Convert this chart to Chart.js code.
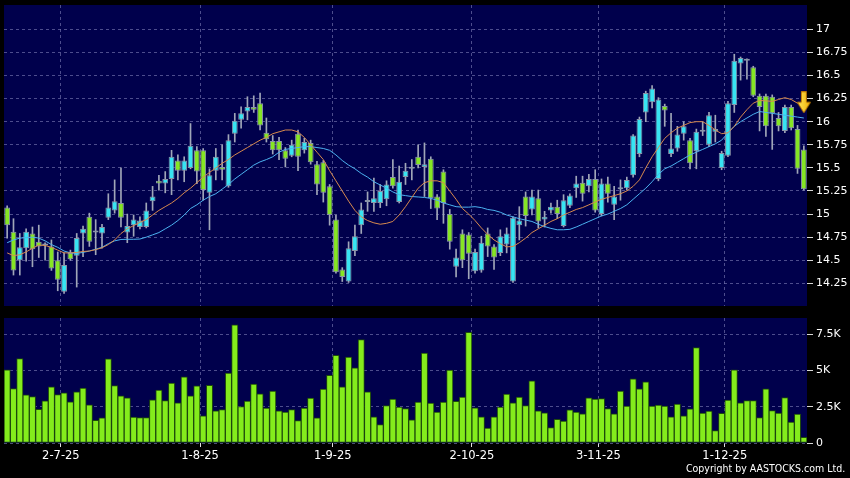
<!DOCTYPE html>
<html lang="en">
<head>
<meta charset="utf-8">
<script src="https://cdn.jsdelivr.net/npm/chart.js"></script>
<style>
  body { margin: 0; background: #000; width: 850px; height: 478px; overflow: hidden; position: relative; }
  #pricebox { position: absolute; left: 0; top: 0; }
  #volbox { position: absolute; left: 0; top: 311px; }
  #copy { position: absolute; right: 5px; top: 462px; color: #fff; font: 11px "DejaVu Sans"; transform: scaleX(0.86); transform-origin: right center; white-space: nowrap; }
</style>
</head>
<body>
<div id="pricebox"><canvas id="priceChart" width="850" height="311"></canvas></div>
<div id="volbox"><canvas id="volChart" width="850" height="167"></canvas></div>
<div id="copy">Copyright by AASTOCKS.com Ltd.</div>
<script>
const dates = [
  '18-6-25','19-6-25','20-6-25','23-6-25','24-6-25','25-6-25','26-6-25','27-6-25','30-6-25',
  '2-7-25','3-7-25','4-7-25','7-7-25','8-7-25','9-7-25','10-7-25','11-7-25','14-7-25','15-7-25','16-7-25','17-7-25','18-7-25','21-7-25','22-7-25','23-7-25','24-7-25','25-7-25','28-7-25','29-7-25','30-7-25','31-7-25',
  '1-8-25','4-8-25','5-8-25','6-8-25','7-8-25','8-8-25','11-8-25','12-8-25','13-8-25','14-8-25','15-8-25','18-8-25','19-8-25','20-8-25','21-8-25','22-8-25','25-8-25','26-8-25','27-8-25','28-8-25','29-8-25',
  '1-9-25','2-9-25','3-9-25','4-9-25','5-9-25','8-9-25','9-9-25','10-9-25','11-9-25','12-9-25','15-9-25','16-9-25','17-9-25','18-9-25','19-9-25','22-9-25','23-9-25','24-9-25','25-9-25','26-9-25','29-9-25','30-9-25',
  '2-10-25','3-10-25','6-10-25','8-10-25','9-10-25','10-10-25','13-10-25','14-10-25','15-10-25','16-10-25','17-10-25','20-10-25','21-10-25','22-10-25','23-10-25','24-10-25','27-10-25','28-10-25','30-10-25','31-10-25',
  '3-11-25','4-11-25','5-11-25','6-11-25','7-11-25','10-11-25','11-11-25','12-11-25','13-11-25','14-11-25','17-11-25','18-11-25','19-11-25','20-11-25','21-11-25','24-11-25','25-11-25','26-11-25','27-11-25','28-11-25',
  '1-12-25','2-12-25','3-12-25','4-12-25','5-12-25','8-12-25','9-12-25','10-12-25','11-12-25','12-12-25','15-12-25','16-12-25','17-12-25'
];

const opens = [
  15.07,14.81,14.50,14.63,14.79,14.70,14.67,14.65,14.50,14.16,14.58,14.55,14.79,14.97,14.82,14.79,14.96,15.04,15.12,14.80,
  14.88,14.86,14.86,15.14,15.36,15.33,15.38,15.58,15.47,15.50,15.69,15.69,15.23,15.47,15.51,15.30,15.87,16.02,16.11,16.16,
  16.20,15.88,15.79,15.79,15.69,15.63,15.87,15.69,15.77,15.54,15.56,15.30,14.94,14.40,14.27,14.60,14.88,15.15,15.12,15.12,
  15.16,15.40,15.13,15.40,15.50,15.62,15.51,15.60,15.19,15.46,15.00,14.43,14.79,14.78,14.38,14.39,14.79,14.65,14.58,14.67,
  14.27,14.88,15.19,15.05,15.17,14.94,15.04,15.08,14.87,15.09,15.28,15.34,15.30,15.38,15.00,15.33,15.10,15.27,15.28,15.42,
  15.65,16.10,16.21,15.38,16.17,15.65,15.71,15.87,15.80,15.68,15.89,15.75,15.89,15.50,15.63,16.18,16.63,16.67,16.59,16.28,
  16.28,16.27,16.04,15.90,16.16,15.92,15.70
];
const highs = [
  15.09,14.95,14.79,14.84,14.86,14.88,14.69,14.72,14.59,14.58,14.61,14.79,14.87,15.01,14.94,14.89,15.22,15.37,15.50,15.00,
  14.99,14.97,15.12,15.30,15.42,15.46,15.69,15.64,15.62,15.98,15.73,15.71,15.49,15.71,15.75,15.86,16.09,16.16,16.27,16.28,
  16.31,16.04,15.85,15.83,15.72,15.80,15.91,15.82,15.80,15.57,15.58,15.32,14.99,14.42,14.70,14.88,15.12,15.24,15.39,15.32,
  15.36,15.59,15.52,15.55,15.59,15.75,15.77,15.62,15.21,15.48,15.05,14.62,14.83,14.80,14.62,14.76,14.85,14.67,14.83,14.85,
  14.97,15.08,15.24,15.26,15.26,15.03,15.12,15.15,15.21,15.22,15.41,15.41,15.43,15.48,15.38,15.40,15.30,15.37,15.40,15.86,
  16.05,16.33,16.39,16.26,16.19,16.09,15.95,16.00,15.82,15.92,16.00,16.10,16.07,15.68,16.22,16.73,16.70,16.68,16.60,16.30,
  16.30,16.29,16.10,16.18,16.18,15.96,15.74
];
const lows = [
  14.74,14.34,14.34,14.49,14.43,14.53,14.50,14.39,14.17,14.14,14.50,14.21,14.54,14.65,14.56,14.63,14.94,15.01,14.86,14.69,
  14.76,14.84,14.85,15.04,15.26,15.23,15.21,15.37,15.35,15.49,15.33,15.15,14.83,15.37,15.37,15.29,15.78,15.93,16.02,16.10,
  15.91,15.78,15.65,15.59,15.51,15.62,15.47,15.66,15.54,15.21,15.13,14.88,14.36,14.27,14.26,14.55,14.79,15.03,15.03,15.07,
  15.09,15.28,15.12,15.32,15.37,15.50,15.19,15.06,14.94,14.90,14.62,14.32,14.42,14.30,14.36,14.37,14.54,14.40,14.55,14.58,
  14.26,14.72,14.87,14.99,14.85,14.86,15.01,14.95,14.86,15.07,15.18,15.14,15.24,15.02,14.98,15.13,14.94,15.15,15.26,15.40,
  15.62,16.00,16.15,15.36,15.95,15.62,15.68,15.80,15.49,15.49,15.85,15.73,15.78,15.48,15.62,16.10,16.45,16.46,16.27,15.90,
  15.84,15.70,15.90,15.88,15.91,15.44,15.26
];
const closes = [
  14.88,14.39,14.64,14.81,14.62,14.65,14.66,14.41,14.29,14.45,14.51,14.74,14.84,14.70,14.80,14.86,15.07,15.14,14.96,14.87,
  14.94,14.93,15.04,15.19,15.33,15.38,15.62,15.47,15.58,15.74,15.46,15.26,15.42,15.62,15.48,15.80,16.01,16.09,16.16,16.13,
  15.96,15.81,15.69,15.69,15.60,15.75,15.62,15.78,15.56,15.32,15.23,14.99,14.37,14.32,14.63,14.76,15.05,15.13,15.17,15.25,
  15.32,15.30,15.35,15.47,15.49,15.53,15.54,15.17,15.06,15.12,14.70,14.53,14.50,14.57,14.59,14.69,14.65,14.53,14.76,14.79,
  14.96,14.93,14.98,15.19,14.92,14.97,15.08,15.00,15.15,15.20,15.33,15.22,15.38,15.04,15.33,15.22,15.19,15.28,15.37,15.85,
  16.03,16.31,16.36,16.24,16.12,15.71,15.86,15.95,15.55,15.89,15.91,16.07,15.92,15.66,16.20,16.66,16.69,16.66,16.28,16.16,
  15.95,16.09,15.95,16.16,15.93,15.49,15.27
];

// moving averages (orange / light blue)
const ma10 = [
  14.58,14.55,14.56,14.59,14.63,14.665,14.66,14.64,14.61,14.58,14.58,14.585,14.595,14.60,14.615,14.635,14.67,14.72,14.79,14.84,
  14.875,14.91,14.94,14.99,15.04,15.08,15.12,15.17,15.23,15.28,15.34,15.40,15.45,15.50,15.55,15.59,15.64,15.68,15.72,15.76,
  15.80,15.83,15.87,15.89,15.91,15.91,15.89,15.83,15.75,15.67,15.59,15.47,15.36,15.25,15.14,15.04,14.97,14.93,14.905,14.89,
  14.90,14.92,14.99,15.08,15.18,15.28,15.34,15.36,15.36,15.34,15.25,15.16,15.06,15.00,14.93,14.85,14.78,14.72,14.68,14.645,
  14.65,14.69,14.74,14.80,14.84,14.88,14.92,14.95,14.99,15.02,15.05,15.07,15.10,15.13,15.16,15.18,15.20,15.22,15.25,15.30,
  15.37,15.50,15.62,15.72,15.82,15.88,15.93,15.96,15.99,16.00,16.00,15.96,15.91,15.87,15.88,15.95,16.05,16.13,16.20,16.23,
  16.225,16.22,16.24,16.26,16.24,16.20,16.18
];
const ma20 = [
  14.69,14.72,14.74,14.745,14.75,14.74,14.71,14.67,14.64,14.60,14.58,14.575,14.585,14.60,14.62,14.64,14.68,14.71,14.725,14.727,
  14.727,14.73,14.75,14.775,14.80,14.84,14.88,14.93,14.99,15.06,15.10,15.15,15.19,15.22,15.27,15.32,15.38,15.43,15.48,15.53,
  15.565,15.59,15.62,15.67,15.70,15.71,15.72,15.73,15.73,15.72,15.71,15.69,15.64,15.58,15.53,15.49,15.44,15.40,15.35,15.315,
  15.28,15.24,15.21,15.20,15.19,15.185,15.18,15.17,15.15,15.12,15.10,15.08,15.075,15.075,15.08,15.07,15.05,15.04,15.02,14.99,
  14.97,14.95,14.935,14.92,14.89,14.865,14.845,14.83,14.83,14.835,14.86,14.89,14.92,14.95,14.98,15.00,15.03,15.06,15.10,15.16,
  15.22,15.28,15.35,15.43,15.49,15.52,15.56,15.60,15.64,15.67,15.70,15.73,15.76,15.80,15.88,15.95,16.00,16.04,16.08,16.11,
  16.10,16.09,16.08,16.07,16.06,16.05,16.04
];

// volume in thousands of shares
const volumes = [
  5.05,3.76,5.83,3.33,3.21,2.32,2.91,3.88,3.35,3.46,2.84,3.53,3.79,2.64,1.56,1.74,5.81,3.97,3.26,3.12,
  1.79,1.76,1.76,2.98,3.65,2.93,4.13,2.78,4.57,3.26,3.95,1.88,3.99,2.22,2.31,4.82,8.15,2.52,2.89,4.06,
  3.40,2.41,3.58,2.22,2.13,2.31,1.54,2.41,3.10,1.74,3.72,4.68,6.06,3.88,5.94,5.19,7.14,3.53,1.81,1.28,
  2.59,3.03,2.48,2.38,1.60,2.82,6.20,2.75,2.13,2.82,5.03,2.87,3.17,7.64,2.43,1.81,1.03,1.81,2.48,3.37,
  2.78,3.17,2.59,4.29,2.22,2.09,1.07,1.63,1.52,2.29,2.13,2.02,3.12,3.03,3.07,2.38,2.02,3.58,2.55,4.43,
  3.74,4.22,2.55,2.62,2.55,1.81,2.69,1.88,2.36,6.58,2.07,2.20,0.85,2.04,2.96,5.05,2.78,2.93,2.93,1.76,
  3.74,2.24,2.07,3.14,1.45,2.00,0.39
];

const tickDates = ['2-7-25', '1-8-25', '1-9-25', '2-10-25', '3-11-25', '1-12-25'];
const priceTicks = [14.25, 14.5, 14.75, 15, 15.25, 15.5, 15.75, 16, 16.25, 16.5, 16.75, 17];
const volTicks = [0, 2.5, 5, 7.5];
const arrowDate = '17-12-25';
const arrowPrice = 16.21;

const UP = '#38e4f2';
const DOWN = '#86e624';
const GRID = 'rgba(110,110,170,0.7)';
Chart.defaults.font.family = 'DejaVu Sans';
Chart.defaults.color = '#ffffff';

const navyBg = {
  id: 'navyBg',
  beforeDraw(chart) {
    const a = chart.chartArea, ctx = chart.ctx;
    ctx.save();
    ctx.fillStyle = '#00004c';
    ctx.fillRect(a.left, a.top, a.right - a.left, a.bottom - a.top);
    ctx.restore();
  }
};

// little yellow down arrow used as point style
const arrowImg = document.createElement('canvas');
arrowImg.width = 14; arrowImg.height = 22;
(function () {
  const g = arrowImg.getContext('2d');
  const grad = g.createLinearGradient(0, 0, 14, 0);
  grad.addColorStop(0, '#ffe860'); grad.addColorStop(1, '#f0b000');
  g.fillStyle = grad;
  g.strokeStyle = '#c07800';
  g.lineWidth = 1;
  g.beginPath();
  g.moveTo(4.5, 0.5); g.lineTo(9.5, 0.5); g.lineTo(9.5, 11); g.lineTo(13.5, 11);
  g.lineTo(7, 21.5); g.lineTo(0.5, 11); g.lineTo(4.5, 11); g.closePath();
  g.fill(); g.stroke();
})();

// stop chart.js from reserving room for edge labels
function noPad(s) {
  s.paddingTop = 0; s.paddingBottom = 0; s.paddingLeft = 0; s.paddingRight = 0;
}

function xAxis(withLabels) {
  return {
    offset: true,
    afterBuildTicks: s => { s.ticks = tickDates.map(d => ({ value: dates.indexOf(d) - 0.5 })); },
    afterFit: s => { s.height = withLabels ? 35 : 5; noPad(s); },
    grid: {
      offset: false, color: GRID, lineWidth: 1,
      drawTicks: withLabels, tickLength: 4, tickColor: '#e0e0e0', tickBorderDash: [1, 0]
    },
    border: { display: false, dash: [3, 3] },
    ticks: {
      display: withLabels, autoSkip: false, maxRotation: 0, padding: 2,
      color: '#ffffff', font: { size: 11.5 },
      callback: v => dates[v + 0.5]
    }
  };
}

function yAxis(min, max, tickList, fmt) {
  return {
    position: 'right', min: min, max: max,
    afterBuildTicks: s => { s.ticks = tickList.map(v => ({ value: v })); },
    afterFit: s => { s.width = 43; noPad(s); },
    grid: { color: GRID, tickColor: '#d8d8d8', tickLength: 6, tickBorderDash: [1, 0] },
    border: { display: false, dash: [3, 3] },
    ticks: { color: '#ffffff', font: { size: 11 }, padding: 3, callback: fmt }
  };
}

const arrowData = dates.map(d => d === arrowDate ? arrowPrice : null);

new Chart(document.getElementById('priceChart'), {
  type: 'bar',
  data: {
    labels: dates,
    datasets: [
      {
        type: 'line', data: arrowData, pointStyle: arrowImg, pointRadius: 8,
        showLine: false, order: 0, clip: false
      },
      {
        type: 'line', data: ma10, borderColor: '#d88a4e', borderWidth: 1,
        pointRadius: 0, tension: 0, order: 1
      },
      {
        type: 'line', data: ma20, borderColor: '#4cb2f0', borderWidth: 1,
        pointRadius: 0, tension: 0, order: 1
      },
      {
        data: opens.map((o, i) => [o, closes[i]]),
        backgroundColor: opens.map((o, i) => closes[i] >= o ? UP : DOWN),
        borderColor: '#8a94a8', borderWidth: 1, borderSkipped: false,
        barPercentage: 0.92, categoryPercentage: 1, grouped: false,
        minBarLength: 2, order: 2
      },
      {
        data: lows.map((l, i) => [l, highs[i]]),
        backgroundColor: '#a0a6b8', barThickness: 1, grouped: false, order: 3
      }
    ]
  },
  options: {
    responsive: false, animation: false,
    layout: { autoPadding: false, padding: { left: 4, top: 5, right: 0, bottom: 0 } },
    plugins: { legend: { display: false }, tooltip: { enabled: false } },
    scales: {
      x: xAxis(false),
      y: yAxis(14.005, 17.263, priceTicks, v => String(v))
    }
  },
  plugins: [navyBg]
});

new Chart(document.getElementById('volChart'), {
  type: 'bar',
  data: {
    labels: dates,
    datasets: [{
      data: volumes, backgroundColor: '#84ec1c',
      borderColor: '#1e4a0c', borderWidth: 1, borderSkipped: false,
      barPercentage: 1, categoryPercentage: 1
    }]
  },
  options: {
    responsive: false, animation: false,
    layout: { autoPadding: false, padding: { left: 4, top: 7, right: 0, bottom: 0 } },
    plugins: { legend: { display: false }, tooltip: { enabled: false } },
    scales: {
      x: xAxis(true),
      y: yAxis(0, 8.63, volTicks, v => v === 0 ? '0' : v + 'K')
    }
  },
  plugins: [navyBg]
});
</script>
</body>
</html>
